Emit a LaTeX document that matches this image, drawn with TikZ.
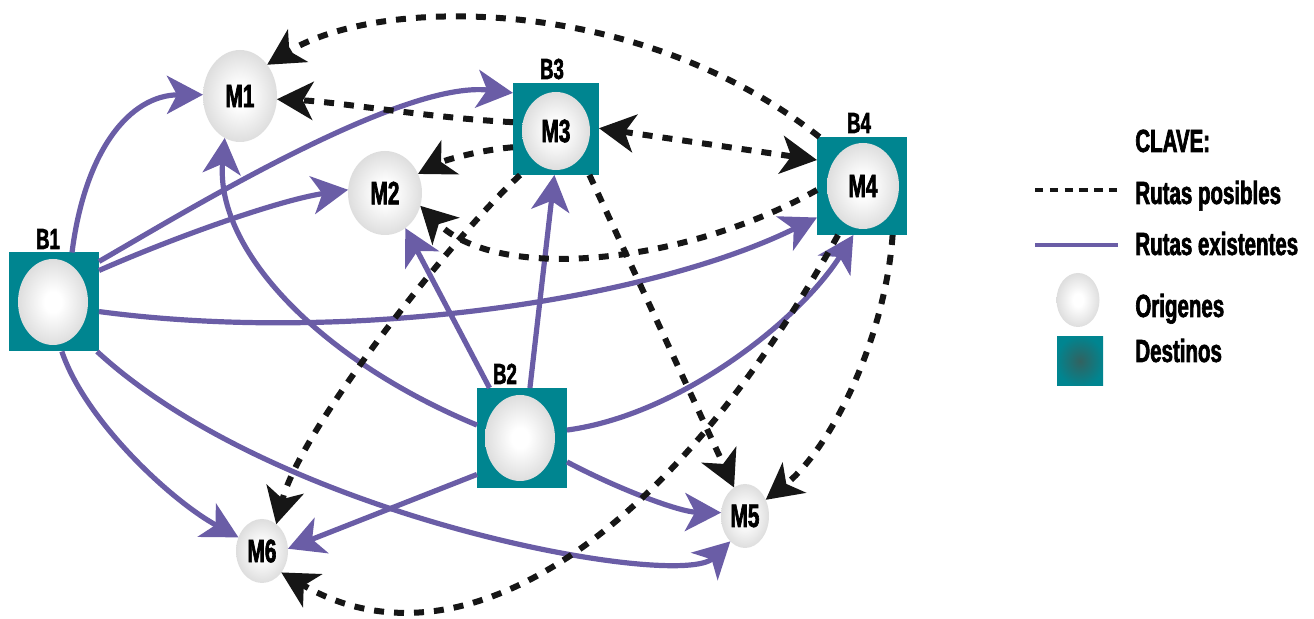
\documentclass[tikz,border=0pt]{standalone}
\usepackage{fontspec}
\setmainfont{Liberation Sans}[FakeStretch=0.64, BoldFeatures={FakeBold=2}]
\usetikzlibrary{arrows.meta,shapes.geometric}
\definecolor{routeviolet}{RGB}{106,93,166}
\definecolor{depot}{RGB}{0,133,144}
\definecolor{depotdark}{RGB}{50,98,96}
\definecolor{eggedge}{RGB}{178,178,178}
\definecolor{ink}{RGB}{22,22,22}
\pgfdeclareradialshading{egg}{\pgfpoint{0bp}{0bp}}{color(0bp)=(white); color(6bp)=(white); color(50bp)=(eggedge)}
\pgfdeclareradialshading{depotshade}{\pgfpoint{0bp}{0bp}}{color(0bp)=(depotdark); color(26bp)=(depot); color(50bp)=(depot)}
\begin{document}
\begin{tikzpicture}[x=0.5pt,y=0.5pt,
  head/.tip={Stealth[length=18pt,width=19pt,inset=5pt]},
  egg/.style n args={2}{ellipse, shading=egg, inner sep=0pt, outer sep=0pt,
    minimum width=#1pt, minimum height=#2pt,
    font=\bfseries\fontsize{16.2}{18}\selectfont},
  depotbox/.style n args={2}{rectangle, fill=depot, inner sep=0pt, outer sep=0pt,
    minimum width=#1pt, minimum height=#2pt},
  tag/.style={anchor=base, inner sep=0pt, font=\bfseries\fontsize{14.5}{16}\selectfont},
  keytext/.style={anchor=base west, inner sep=0pt, font=\bfseries\fontsize{16}{18}\selectfont},
  existing/.style={draw=routeviolet, line width=2.6pt, -head},
  possible/.style={draw=ink, line width=3pt, dash pattern=on 5pt off 5pt, -head},
]
\useasboundingbox (0,0) rectangle (1314,-619);

% depots (squares) with their origins
\node[depotbox={45}{49.5}] (B1) at (54,-302) {};
\node[depotbox={45}{50}]   (B2) at (522,-438) {};
\node[depotbox={43}{46}]   (B3) at (556,-129) {};
\node[depotbox={45}{49}]   (B4) at (862,-186) {};
\node[egg={35}{43}] (O1) at (53,-302) {};
\node[egg={35}{43}] (O2) at (520,-438) {};
\node[egg={34}{39}] (M3) at (556,-131) {M3};
\node[egg={36}{43}] (M4) at (863,-186) {M4};

% markets
\node[egg={37}{46}] (M1) at (240,-96) {M1};
\node[egg={37}{42}] (M2) at (385,-193) {M2};
\node[egg={24}{32}] (M5) at (745,-516) {M5};
\node[egg={26}{32}] (M6) at (262,-551) {M6};

% depot labels
\node[tag] (tB1) at (48,-249) {B1};
\node[tag] (tB2) at (505,-384) {B2};
\node[tag] (tB3) at (552,-79) {B3};
\node[tag] (tB4) at (859,-133) {B4};

% existing routes
\draw[existing] (B1.70)  .. controls (85,-150) and (130,-95) .. (M1.178);
\draw[existing] (B1.42)  .. controls (180,-215) and (400,-80) .. (B3.140);
\draw[existing] (B1.35)  .. controls (180,-235) and (280,-200) .. (M2.175);
\draw[existing] (B1.-12) .. controls (350,-345) and (650,-300) .. (B4.215);
\draw[existing] (B1.-81) .. controls (85,-420) and (170,-500) .. (M6.150);
\draw[existing] (B1.-49) .. controls (280,-520) and (680,-590) .. (M5.240);
\draw[existing] (B2.164) .. controls (320,-360) and (215,-250) .. (M1.250);
\draw[existing] (B2.123) -- (M2.-60);
\draw[existing] (B2.81)  -- (B3.268);
\draw[existing] (B2.10)  .. controls (680,-415) and (800,-320) .. (B4.260);
\draw[existing] (B2.219) -- (M6.5);
\draw[existing] (B2.-28) .. controls (620,-490) and (680,-512) .. (M5.172);

% possible routes
\draw[possible] (B4.131) .. controls (640,5) and (380,5) .. (M1.49);
\draw[possible] (B3.171) .. controls (430,-118) and (340,-102) .. (M1.-5);
\draw[possible, head-head] (B3.1) -- (B4.150);
\draw[possible] (B3.203) .. controls (480,-150) and (445,-160) .. (M2.30);
\draw[possible] (B4.185) .. controls (690,-262) and (500,-285) .. (M2.-20);
\draw[possible] (B3.232) .. controls (450,-240) and (300,-430) .. (M6.62);
\draw[possible] (B3.-54) -- (M5.111);
\draw[possible] (B4.-58) .. controls (885,-340) and (830,-450) .. (M5.38);
\draw[possible] (B4.244) .. controls (672,-535) and (462,-678) .. (M6.-48);

% key
\node[keytext] (kclave) at (1135,-152) {CLAVE:};
\coordinate (kd0) at (1035,-190);
\coordinate (kd1) at (1118,-190);
\draw[ink, line width=2.2pt, dash pattern=on 4.2pt off 3.2pt] (kd0) -- (kd1);
\node[keytext] (kposs) at (1135,-204) {Rutas posibles};
\coordinate (ks0) at (1035,-245);
\coordinate (ks1) at (1118,-245);
\draw[routeviolet, line width=2.2pt] (ks0) -- (ks1);
\node[keytext] (kexist) at (1135,-255) {Rutas existentes};
\node[egg={21.5}{27}] (korig) at (1078,-300) {};
\node[keytext] (korigt) at (1135,-317) {Origenes};
\node[rectangle, shading=depotshade, inner sep=0pt, minimum width=23pt, minimum height=24.5pt] (kdest) at (1080,-361) {};
\node[keytext] (kdestt) at (1135,-362) {Destinos};
\end{tikzpicture}
\end{document}
